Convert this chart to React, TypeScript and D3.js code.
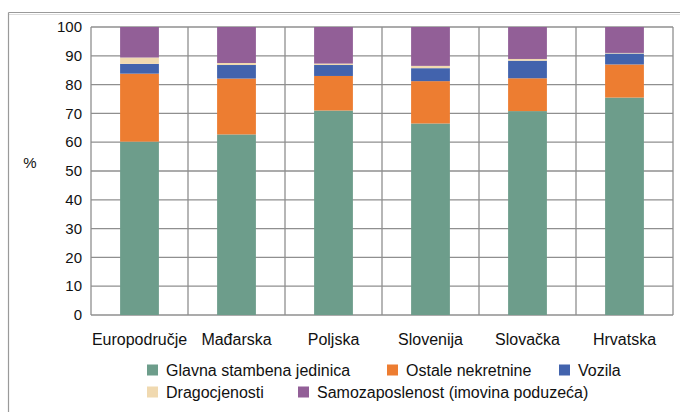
import React, { useEffect, useRef } from 'react';
import * as d3 from 'd3';

const countries = ['Europodručje', 'Mađarska', 'Poljska', 'Slovenija', 'Slovačka', 'Hrvatska'];
const seriesNames = [
  'Glavna stambena jedinica',
  'Ostale nekretnine',
  'Vozila',
  'Dragocjenosti',
  'Samozaposlenost (imovina poduzeća)',
];
const colors = ['#6d9d8b', '#ed7d31', '#4263ad', '#f0d9b0', '#925f97'];

// shares in % per country
const mainHome = [60.2, 62.7, 71.0, 66.5, 70.8, 75.5];
const otherRealEstate = [23.6, 19.4, 12.0, 14.7, 11.4, 11.5];
const vehicles = [3.4, 4.7, 3.8, 4.5, 6.1, 3.8];
const valuables = [2.2, 0.7, 0.5, 0.8, 0.6, 0.2];
const selfEmployment = [10.6, 12.5, 12.7, 13.5, 11.1, 9.0];

const yTicks = [0, 10, 20, 30, 40, 50, 60, 70, 80, 90, 100];

const Chart: React.FC = () => {
  const svgRef = useRef<SVGSVGElement | null>(null);

  useEffect(() => {
    if (!svgRef.current) return;
    const svg = d3.select(svgRef.current);
    svg.selectAll('*').remove();

    const width = 680;
    const height = 412;
    const left = 91;
    const right = 673;
    const top = 27;
    const bottom = 315;
    const font = 'Liberation Sans, Arial, Helvetica, sans-serif';

    const rows = countries.map((c, i) => ({
      country: c,
      s0: mainHome[i],
      s1: otherRealEstate[i],
      s2: vehicles[i],
      s3: valuables[i],
      s4: selfEmployment[i],
    }));
    const keys = ['s0', 's1', 's2', 's3', 's4'];
    const stacked = d3.stack<any>().keys(keys)(rows);

    const x = d3.scaleBand().domain(countries).range([left, right]).paddingInner(0.6).paddingOuter(0.3);
    const y = d3.scaleLinear().domain([0, 100]).range([bottom, top]);

    // outer frame
    svg.append('line').attr('x1', 8.5).attr('x2', width).attr('y1', 12.5).attr('y2', 12.5)
      .attr('stroke', '#9a9a9a').attr('stroke-width', 1.2);
    svg.append('line').attr('x1', 8.5).attr('x2', width).attr('y1', 14.5).attr('y2', 14.5)
      .attr('stroke', '#dcdcdc').attr('stroke-width', 1);
    svg.append('line').attr('x1', 8.5).attr('x2', 8.5).attr('y1', 12.5).attr('y2', height)
      .attr('stroke', '#9a9a9a').attr('stroke-width', 1.2);

    // horizontal grid
    svg.append('g').selectAll('line').data(yTicks).enter().append('line')
      .attr('x1', left).attr('x2', right)
      .attr('y1', (d) => y(d)).attr('y2', (d) => y(d))
      .attr('stroke', '#8f8f8f').attr('stroke-width', 1.3);

    // vertical grid at category boundaries
    const step = x.step();
    const bounds = d3.range(countries.length + 1).map((i) => left + i * step);
    svg.append('g').selectAll('line').data(bounds).enter().append('line')
      .attr('x1', (d) => d).attr('x2', (d) => d)
      .attr('y1', top).attr('y2', bottom)
      .attr('stroke', '#8f8f8f').attr('stroke-width', 1.3);

    // bars
    svg.append('g').selectAll('g').data(stacked).enter().append('g')
      .attr('fill', (_d, i) => colors[i])
      .selectAll('rect').data((d) => d).enter().append('rect')
      .attr('x', (d: any) => x(d.data.country)!)
      .attr('width', x.bandwidth())
      .attr('y', (d) => y(d[1]))
      .attr('height', (d) => y(d[0]) - y(d[1]));

    // y tick labels
    svg.append('g').selectAll('text').data(yTicks).enter().append('text')
      .attr('x', 82).attr('y', (d) => y(d)).attr('dy', '0.35em')
      .attr('text-anchor', 'end').attr('font-family', font).attr('font-size', 15)
      .attr('fill', '#111').text((d) => d);

    svg.append('text').attr('x', 30).attr('y', 163).attr('dy', '0.35em')
      .attr('text-anchor', 'middle').attr('font-family', font).attr('font-size', 15)
      .attr('fill', '#111').text('%');

    // category labels
    svg.append('g').selectAll('text').data(countries).enter().append('text')
      .attr('x', (d) => x(d)! + x.bandwidth() / 2).attr('y', 339).attr('dy', '0.35em')
      .attr('text-anchor', 'middle').attr('font-family', font).attr('font-size', 16)
      .attr('fill', '#111').text((d) => d);

    // legend
    const legendPos = [
      { x: 147, y: 370 },
      { x: 387, y: 370 },
      { x: 559, y: 370 },
      { x: 147, y: 392 },
      { x: 298, y: 392 },
    ];
    const lg = svg.append('g').selectAll('g').data(seriesNames).enter().append('g')
      .attr('transform', (_d, i) => `translate(${legendPos[i].x},${legendPos[i].y})`);
    lg.append('rect').attr('x', 0).attr('y', -5.5).attr('width', 11).attr('height', 11)
      .attr('fill', (_d, i) => colors[i]);
    lg.append('text').attr('x', 19).attr('y', 0).attr('dy', '0.35em')
      .attr('font-family', font).attr('font-size', 16).attr('fill', '#111')
      .text((d) => d);
  }, []);

  return <svg ref={svgRef} width={680} height={412} style={{ display: 'block' }} />;
};

export default function App() {
  return (
    <div style={{ position: 'absolute', left: 0, top: 0, width: 680, height: 412, background: '#fff' }}>
      <Chart />
    </div>
  );
}
